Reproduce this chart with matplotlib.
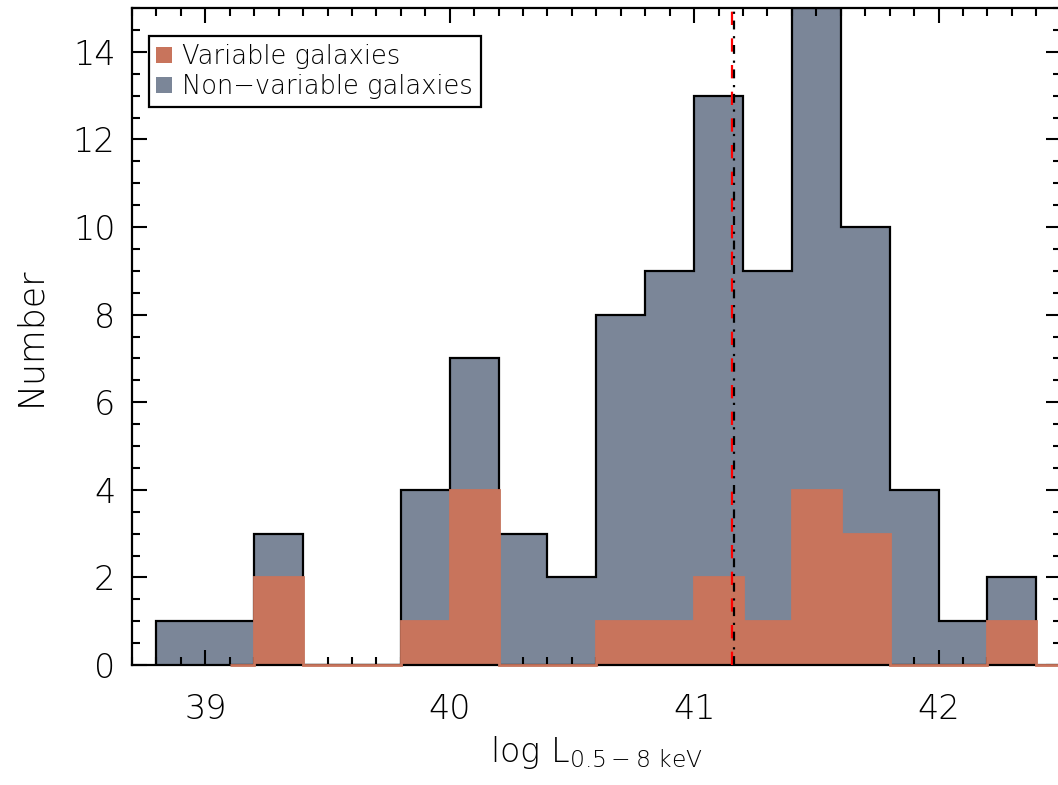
import matplotlib
matplotlib.use("Agg")
import matplotlib.pyplot as plt
from matplotlib.patches import Patch
from matplotlib.ticker import MultipleLocator

# ---------------- DATA ----------------
# non-variable galaxies, bins of 0.2 dex
nonvar_edges = [38.8, 39.0, 39.2, 39.4, 39.6, 39.8, 40.0, 40.2, 40.4, 40.6,
                40.8, 41.0, 41.2, 41.4, 41.6, 41.8, 42.0, 42.2, 42.4]
nonvar_counts = [1, 1, 3, 0, 0, 4, 7, 3, 2, 8, 9, 13, 9, 15, 10, 4, 1, 2]

# variable galaxies (drawn from half the first bin, as in the original)
var_edges = [39.1, 39.2, 39.4, 39.6, 39.8, 40.0, 40.2, 40.4, 40.6, 40.8,
             41.0, 41.2, 41.4, 41.6, 41.8, 42.0, 42.2, 42.4, 42.5]
var_counts = [0, 2, 0, 0, 1, 4, 0, 0, 1, 1, 2, 1, 4, 3, 0, 0, 1, 0]

median_var = 41.155
median_nonvar = 41.165

RED = "#C8745C"
GREY = "#7B8698"

plt.rcParams["font.family"] = "DejaVu Sans"
plt.rcParams["font.weight"] = "light"
plt.rcParams["axes.labelweight"] = "light"
plt.rcParams["mathtext.fontset"] = "custom"
plt.rcParams["mathtext.rm"] = "DejaVu Sans:light"
plt.rcParams["mathtext.default"] = "rm"

fig = plt.figure(figsize=(10.58, 7.85), dpi=100)
ax = fig.add_axes([132 / 1058, 120 / 785, 928.7 / 1058, 657 / 785])

# non-variable: grey fill with black step outline
ax.stairs(nonvar_counts, nonvar_edges, fill=True, color=GREY, linewidth=0, zorder=1)
ax.stairs(nonvar_counts, nonvar_edges, color="black", linewidth=1.6, baseline=0, zorder=1.5)

# variable: red fill, red step line on top of the axis
ax.stairs(var_counts, var_edges, fill=True, color=RED, linewidth=0, zorder=2)
ax.stairs(var_counts, var_edges, color=RED, linewidth=2.0, baseline=0,
          zorder=3, clip_on=False)

ax.axvline(median_var, color="red", linestyle=(0, (6, 6)), linewidth=1.6, zorder=4)
ax.axvline(median_nonvar, color="black", linestyle=(0, (4, 3, 1, 3)), linewidth=1.6, zorder=4)

ax.set_xlim(38.7, 42.5)
ax.set_ylim(0, 15)

ax.xaxis.set_major_locator(MultipleLocator(1))
ax.xaxis.set_minor_locator(MultipleLocator(0.1))
ax.yaxis.set_major_locator(MultipleLocator(2))
ax.yaxis.set_minor_locator(MultipleLocator(0.5))
ax.tick_params(which="both", direction="in", top=True, right=True, width=1.5)
ax.tick_params(which="major", length=11, labelsize=24)
ax.tick_params(axis="x", which="major", pad=20)
ax.tick_params(axis="y", which="major", pad=12)
ax.tick_params(which="minor", length=6)
for s in ax.spines.values():
    s.set_linewidth(1.6)

ax.set_xlabel(r"log L$_{0.5-8\ keV}$", fontsize=24, labelpad=6)
ax.set_ylabel("Number", fontsize=25, labelpad=18)

handles = [Patch(facecolor=RED, edgecolor="none"),
           Patch(facecolor=GREY, edgecolor="none")]
leg = ax.legend(handles, ["Variable galaxies", "Non\u2212variable galaxies"],
                loc="upper left", bbox_to_anchor=(0.018, 0.957),
                fontsize=18.5, frameon=True, fancybox=False, framealpha=1,
                edgecolor="black", handlelength=0.6, handleheight=0.6,
                handletextpad=0.4, borderpad=0.3, labelspacing=0.2,
                borderaxespad=0)
leg.get_frame().set_linewidth(1.6)
leg.set_zorder(5)

fig.savefig("out.png", dpi=100)
